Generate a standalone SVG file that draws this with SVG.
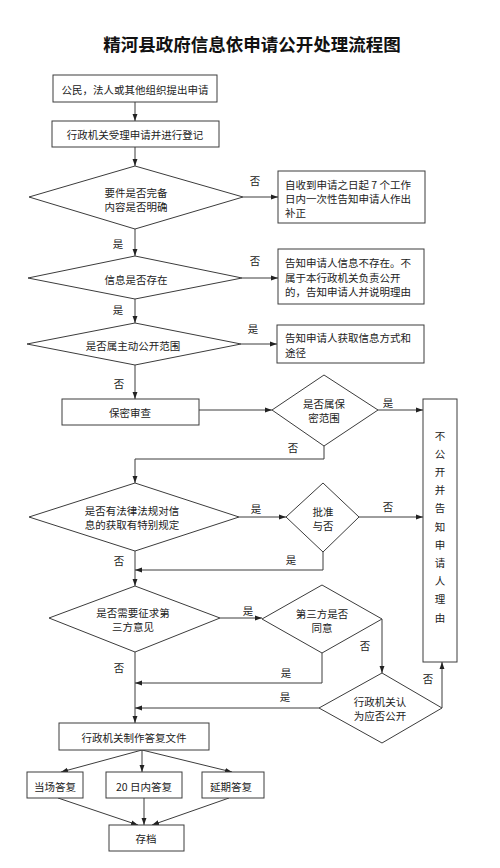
<svg xmlns="http://www.w3.org/2000/svg" width="500" height="868" viewBox="0 0 500 868">
<style>
.b{fill:#fff;stroke:#3c3c3c;stroke-width:1}
.t{font-family:"Noto Sans CJK SC","Liberation Sans",sans-serif;font-size:10.5px;fill:#222;text-anchor:middle;dominant-baseline:central}
.l{text-anchor:start}
.c{fill:none;stroke:#3c3c3c;stroke-width:1;marker-end:url(#a)}
.title{font-family:"Noto Sans CJK SC","Liberation Serif",serif;font-size:17.5px;font-weight:bold;fill:#111;text-anchor:middle;dominant-baseline:central}
</style>
<defs>
<marker id="a" viewBox="0 0 10 10" refX="10" refY="5" markerWidth="7" markerHeight="7" orient="auto" markerUnits="userSpaceOnUse">
<path d="M0,1.5 L10,5 L0,8.5 z" fill="#222"/>
</marker>
</defs>
<rect width="500" height="868" fill="#fff"/>
<text class="title" x="252" y="43">精河县政府信息依申请公开处理流程图</text>

<g id="connectors">
<path class="c" d="M135,102 V121"/>
<path class="c" d="M135,147 V166"/>
<path class="c" d="M243,197 H278"/>
<path class="c" d="M135,229 V256"/>
<path class="c" d="M242,278 H278"/>
<path class="c" d="M135,299 V323"/>
<path class="c" d="M241,344 H277"/>
<path class="c" d="M135,365 V399"/>
<path class="c" d="M199,410 H272"/>
<path class="c" d="M378,410 H423"/>
<path class="c" d="M324,446 V459 H135 V483"/>
<path class="c" d="M239,517 H286"/>
<path class="c" d="M359,517 H423"/>
<path class="c" d="M323,552 V570 H135"/>
<path class="c" d="M135,551 V586"/>
<path class="c" d="M220,618 H262"/>
<path class="c" d="M382,619 V673"/>
<path class="c" d="M322,653 V683 H135"/>
<path class="c" d="M319,708 H135"/>
<path class="c" d="M442,708 V662"/>
<path class="c" d="M135,652 V723"/>
<path class="c" d="M142,750 L61,772"/>
<path class="c" d="M142,750 V772"/>
<path class="c" d="M142,750 L232,772"/>
<path class="c" d="M58,798 L138,825"/>
<path class="c" d="M144,798 V825"/>
<path class="c" d="M229,798 L152,825"/>
<g id="labels">
<text class="t" x="255" y="180">否</text>
<text class="t" x="118" y="243">是</text>
<text class="t" x="255" y="260">否</text>
<text class="t" x="118" y="309">是</text>
<text class="t" x="253" y="328">是</text>
<text class="t" x="119" y="383">否</text>
<text class="t" x="388" y="402">是</text>
<text class="t" x="293" y="447">否</text>
<text class="t" x="256" y="508">是</text>
<text class="t" x="388" y="506">否</text>
<text class="t" x="291" y="559">是</text>
<text class="t" x="119" y="560">否</text>
<text class="t" x="248" y="610">是</text>
<text class="t" x="365" y="645">否</text>
<text class="t" x="286" y="672">是</text>
<text class="t" x="119" y="667">否</text>
<text class="t" x="428" y="678">否</text>
<text class="t" x="285" y="696">是</text>
</g>
</g>

<g id="n1"><rect class="b" x="53" y="75" width="164" height="27"/><text class="t" x="135" y="89">公民，法人或其他组织提出申请</text></g>
<g id="n2"><rect class="b" x="52" y="121" width="167" height="26"/><text class="t" x="135" y="134">行政机关受理申请并进行登记</text></g>
<g id="d1"><polygon class="b" points="135,166 243,197 135,229 29,197"/><text class="t" x="136" y="192">要件是否完备</text><text class="t" x="136" y="206">内容是否明确</text></g>
<g id="n3"><rect class="b" x="278" y="171" width="147" height="52"/><text class="t l" x="285" y="184">自收到申请之日起 7 个工作</text><text class="t l" x="285" y="198">日内一次性告知申请人作出</text><text class="t l" x="285" y="212">补正</text></g>
<g id="d2"><polygon class="b" points="135,256 242,278 135,299 28,278"/><text class="t" x="136" y="279">信息是否存在</text></g>
<g id="n4"><rect class="b" x="278" y="249" width="146" height="55"/><text class="t l" x="285" y="262">告知申请人信息不存在。不</text><text class="t l" x="285" y="277">属于本行政机关负责公开</text><text class="t l" x="285" y="291">的，告知申请人并说明理由</text></g>
<g id="d3"><polygon class="b" points="135,323 241,344 135,365 27,344"/><text class="t" x="133" y="345">是否属主动公开范围</text></g>
<g id="n5"><rect class="b" x="277" y="325" width="147" height="38"/><text class="t l" x="285" y="337">告知申请人获取信息方式和</text><text class="t l" x="285" y="352">途径</text></g>
<g id="n6"><rect class="b" x="62" y="399" width="137" height="26"/><text class="t" x="130" y="412">保密审查</text></g>
<g id="d4"><polygon class="b" points="324,375 378,410 324,446 272,410"/><text class="t" x="324" y="403">是否属保</text><text class="t" x="324" y="417">密范围</text></g>
<g id="n7"><rect class="b" x="423" y="399" width="34" height="263"/>
<text class="t" x="440" y="435">不</text><text class="t" x="440" y="453.2">公</text><text class="t" x="440" y="471.4">开</text><text class="t" x="440" y="489.6">并</text><text class="t" x="440" y="507.8">告</text><text class="t" x="440" y="526">知</text><text class="t" x="440" y="544.2">申</text><text class="t" x="440" y="562.4">请</text><text class="t" x="440" y="580.6">人</text><text class="t" x="440" y="598.8">理</text><text class="t" x="440" y="617">由</text></g>
<g id="d5"><polygon class="b" points="135,483 239,517 135,551 29,517"/><text class="t" x="132" y="510">是否有法律法规对信</text><text class="t" x="132" y="524">息的获取有特别规定</text></g>
<g id="d6"><polygon class="b" points="323,483 359,517 323,552 286,517"/><text class="t" x="323" y="511">批准</text><text class="t" x="323" y="525">与否</text></g>
<g id="d7"><polygon class="b" points="135,586 220,618 135,652 49,618"/><text class="t" x="133" y="612">是否需要征求第</text><text class="t" x="133" y="626">三方意见</text></g>
<g id="d8"><polygon class="b" points="322,585 382,619 322,653 262,619"/><text class="t" x="322" y="613">第三方是否</text><text class="t" x="322" y="627">同意</text></g>
<g id="d9"><polygon class="b" points="382,673 442,708 382,743 319,708"/><text class="t" x="380" y="701">行政机关认</text><text class="t" x="380" y="715">为应否公开</text></g>
<g id="n8"><rect class="b" x="59" y="723" width="150" height="27"/><text class="t" x="134" y="737">行政机关制作答复文件</text></g>
<g id="n9"><rect class="b" x="27" y="772" width="56" height="26"/><text class="t" x="55" y="786">当场答复</text></g>
<g id="n10"><rect class="b" x="106" y="772" width="76" height="26"/><text class="t" x="144" y="786">20 日内答复</text></g>
<g id="n11"><rect class="b" x="202" y="772" width="62" height="26"/><text class="t" x="231" y="786">延期答复</text></g>
<g id="n12"><rect class="b" x="109" y="825" width="75" height="26"/><text class="t" x="146" y="838">存档</text></g>
</svg>
